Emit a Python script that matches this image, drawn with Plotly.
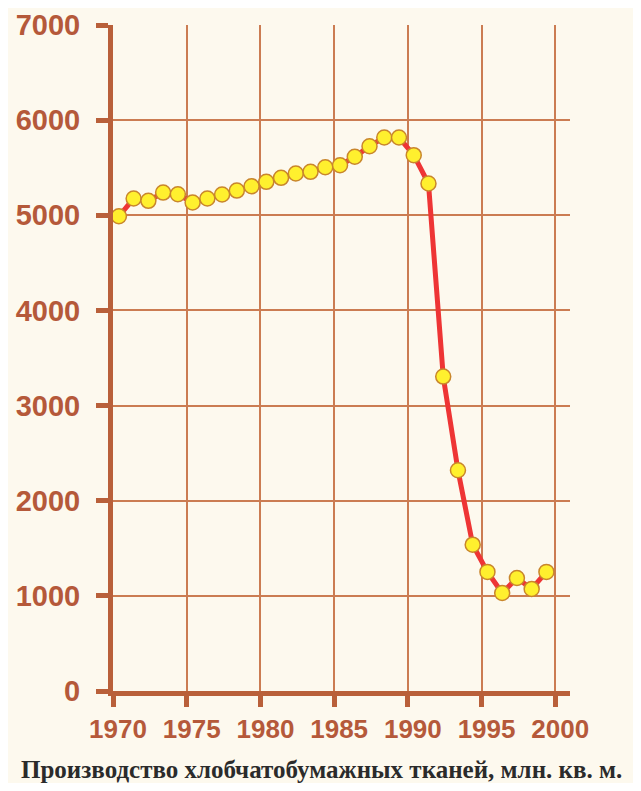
import plotly.graph_objects as go

years = list(range(1970, 2000))
production = [4990, 5176, 5152, 5239, 5221, 5134, 5176, 5218, 5260, 5305,
              5352, 5394, 5439, 5457, 5505, 5526, 5615, 5726, 5818, 5818,
              5632, 5334, 3305, 2320, 1538, 1252, 1030, 1188, 1073, 1252]

x_ticks = [1970, 1975, 1980, 1985, 1990, 1995, 2000]
y_ticks = [0, 1000, 2000, 3000, 4000, 5000, 6000, 7000]
title_text = "Производство хлобчатобумажных тканей, млн. кв. м."

mid_year = 0.4  # values plotted at mid-year position

bg = "#fdf9ee"
axis_col = "#b9603a"
grid_col = "#cb7c52"
label_col = "#b5593a"

fig = go.Figure()
fig.add_trace(go.Scatter(
    x=[y + mid_year for y in years], y=production,
    mode="lines+markers",
    line=dict(color="#ee3535", width=5),
    marker=dict(size=15, color="#fff02e", line=dict(color="#c9862c", width=1.5)),
    hoverinfo="skip", showlegend=False,
))

fig.update_layout(
    width=625, height=775,
    margin=dict(l=105, r=63, t=17, b=92),
    paper_bgcolor=bg, plot_bgcolor=bg,
    xaxis=dict(
        range=[1970, 2001], tickvals=x_ticks, ticktext=[str(v) for v in x_ticks],
        showgrid=True, gridcolor=grid_col, gridwidth=2,
        showline=True, linecolor=axis_col, linewidth=5,
        ticks="outside", ticklen=11, tickwidth=5, tickcolor=axis_col,
        tickfont=dict(family="Liberation Sans", size=26, color=label_col, weight="bold"),
        ticklabelshift=5, automargin=False,
        zeroline=False, fixedrange=True,
    ),
    yaxis=dict(
        range=[0, 7000], tickvals=y_ticks,
        showgrid=True, gridcolor=grid_col, gridwidth=2,
        showline=True, linecolor=axis_col, linewidth=5,
        ticks="outside", ticklen=12, tickwidth=5, tickcolor=axis_col,
        tickfont=dict(family="Liberation Sans", size=29, color=label_col, weight="bold"),
        ticklabelstandoff=10, automargin=False,
        zeroline=False, fixedrange=True,
    ),
    annotations=[dict(
        text="<b>" + title_text + "</b>", xref="paper", yref="paper",
        x=0.5, y=-0.118, xanchor="center", yanchor="middle", showarrow=False,
        font=dict(family="Liberation Serif", size=25, color="#2b2b2b"),
        xshift=-20,
    )],
)

fig.write_html("out.html")
